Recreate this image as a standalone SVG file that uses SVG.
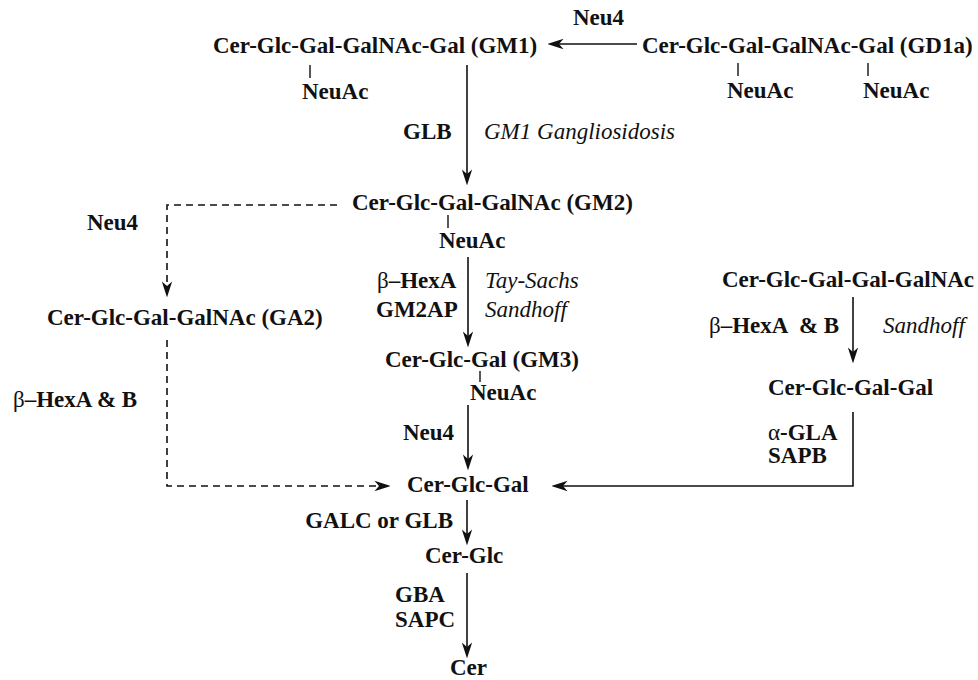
<svg xmlns="http://www.w3.org/2000/svg" width="978" height="680" viewBox="0 0 978 680">
<style>
  text { font-family: "Liberation Serif", "Times New Roman", serif; font-size: 23px; fill: #111; }
  .b { font-weight: bold; }
  .i { font-style: italic; }
  .n { font-weight: normal; }
  .ln { fill: none; stroke: #111; stroke-width: 1.6; }
  .ds { fill: none; stroke: #111; stroke-width: 1.6; stroke-dasharray: 7 5; }
  .tk { stroke: #111; stroke-width: 1.4; }
</style>
<defs>
  <marker id="ah" markerUnits="userSpaceOnUse" markerWidth="16" markerHeight="12" viewBox="0 0 14 9" refX="11" refY="4.5" orient="auto">
    <path d="M0,0 L14,4.5 L0,9 L4,4.5 Z" fill="#111"/>
  </marker>
</defs>
<rect width="978" height="680" fill="#fff"/>

<g id="connectors">
  <line class="ln" x1="637" y1="44" x2="551" y2="44" marker-end="url(#ah)"/>
  <line class="ln" x1="467" y1="65" x2="467" y2="182" marker-end="url(#ah)"/>
  <line class="ln" x1="468" y1="257" x2="468" y2="344" marker-end="url(#ah)"/>
  <line class="ln" x1="468" y1="405" x2="468" y2="467" marker-end="url(#ah)"/>
  <line class="ln" x1="467" y1="500" x2="467" y2="542" marker-end="url(#ah)"/>
  <line class="ln" x1="467" y1="573" x2="467" y2="655" marker-end="url(#ah)"/>
  <line class="ln" x1="853" y1="297" x2="853" y2="360" marker-end="url(#ah)"/>
  <path class="ln" d="M853,412 V486 H555" marker-end="url(#ah)"/>
  <path class="ds" d="M337,205 H167 V294" marker-end="url(#ah)"/>
  <path class="ds" d="M167,340 V486 H387" marker-end="url(#ah)"/>
</g>

<g id="neu4-top"><text class="b" x="573" y="25">Neu4</text></g>

<g id="GM1">
  <text class="b" x="213" y="53">Cer-Glc-Gal-GalNAc-Gal (GM1)</text>
  <line class="tk" x1="310" y1="65" x2="310" y2="78"/>
  <text class="b" x="302" y="99">NeuAc</text>
</g>

<g id="GD1a">
  <text class="b" x="642" y="53">Cer-Glc-Gal-GalNAc-Gal (GD1a)</text>
  <line class="tk" x1="738" y1="63" x2="738" y2="76"/>
  <line class="tk" x1="868" y1="63" x2="868" y2="76"/>
  <text class="b" x="727" y="98">NeuAc</text>
  <text class="b" x="863" y="98">NeuAc</text>
</g>

<g id="lbl-glb">
  <text class="b" x="403" y="139">GLB</text>
  <text class="i" x="484" y="139">GM1 Gangliosidosis</text>
</g>

<g id="GM2">
  <text class="b" x="352" y="210">Cer-Glc-Gal-GalNAc (GM2)</text>
  <line class="tk" x1="448" y1="215" x2="448" y2="228"/>
  <text class="b" x="439" y="248">NeuAc</text>
</g>

<g id="lbl-neu4-left"><text class="b" x="87" y="230">Neu4</text></g>

<g id="GA2"><text class="b" x="47" y="325">Cer-Glc-Gal-GalNAc (GA2)</text></g>

<g id="lbl-hexab-left"><text class="b" x="13" y="407"><tspan class="n">β</tspan>–HexA &amp; B</text></g>

<g id="lbl-hexa">
  <text class="b" x="377" y="288"><tspan class="n">β</tspan>–HexA</text>
  <text class="b" x="376" y="317">GM2AP</text>
  <text class="i" x="485" y="288">Tay-Sachs</text>
  <text class="i" x="485" y="317">Sandhoff</text>
</g>

<g id="GM3">
  <text class="b" x="385" y="367">Cer-Glc-Gal (GM3)</text>
  <line class="tk" x1="480" y1="371" x2="480" y2="382"/>
  <text class="b" x="470" y="400">NeuAc</text>
</g>

<g id="lbl-neu4-mid"><text class="b" x="403" y="440">Neu4</text></g>

<g id="Gb4"><text class="b" x="722" y="287">Cer-Glc-Gal-Gal-GalNAc</text></g>

<g id="lbl-hexab-right">
  <text class="b" x="709" y="333"><tspan class="n">β</tspan>–HexA <tspan dx="6">&amp; B</tspan></text>
  <text class="i" x="883" y="333">Sandhoff</text>
</g>

<g id="Gb3"><text class="b" x="768" y="395">Cer-Glc-Gal-Gal</text></g>

<g id="lbl-gla">
  <text class="b" x="768" y="440"><tspan class="n">α</tspan>-GLA</text>
  <text class="b" x="768" y="463">SAPB</text>
</g>

<g id="LacCer"><text class="b" x="407" y="492">Cer-Glc-Gal</text></g>

<g id="lbl-galc"><text class="b" x="453" y="528" text-anchor="end">GALC or GLB</text></g>

<g id="GlcCer"><text class="b" x="425" y="563">Cer-Glc</text></g>

<g id="lbl-gba">
  <text class="b" x="395" y="602">GBA</text>
  <text class="b" x="395" y="627">SAPC</text>
</g>

<g id="Cer"><text class="b" x="450" y="675">Cer</text></g>
</svg>
